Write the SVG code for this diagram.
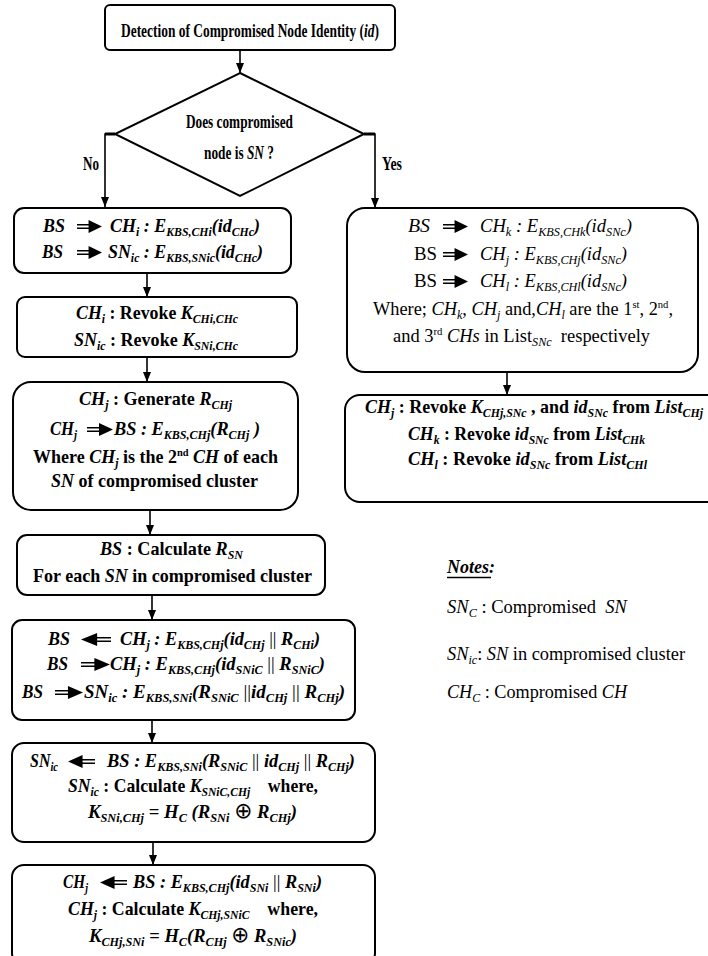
<svg xmlns="http://www.w3.org/2000/svg" xmlns:xlink="http://www.w3.org/1999/xlink" width="708" height="956" viewBox="0 0 708 956">
<style>
text{font-family:"Liberation Serif","Times New Roman",serif;font-size:19px;font-weight:bold;fill:#000;}
.r{font-weight:normal}
.i{font-style:italic}
.u{font-style:normal}
.s{font-size:12.5px;baseline-shift:-4px}
.p{font-size:11px;baseline-shift:7px}
.ox{font-family:"DejaVu Sans",sans-serif;font-weight:normal;font-style:normal;font-size:22px}
.box{fill:#fff;stroke:#000;stroke-width:2}
.con{fill:none;stroke:#000;stroke-width:1.6}
</style>
<defs>
<marker id="ah" viewBox="0 0 10 8" refX="10" refY="4" markerWidth="10" markerHeight="8" orient="auto" markerUnits="userSpaceOnUse"><path d="M0,0 L10,4 L0,8 z" fill="#000"/></marker>
<symbol id="ra" viewBox="0 0 26 14" preserveAspectRatio="none"><path d="M0,5 H14 M0,9 H14" stroke="#000" stroke-width="1.6"/><path d="M12,0 L26,7 L12,14 z" fill="#000"/></symbol>
<symbol id="la" viewBox="0 0 26 14" preserveAspectRatio="none"><path d="M12,5 H26 M12,9 H26" stroke="#000" stroke-width="1.6"/><path d="M14,0 L0,7 L14,14 z" fill="#000"/></symbol>
</defs>

<g id="connectors">
<line class="con" x1="240" y1="50" x2="240" y2="73" marker-end="url(#ah)"/>
<path class="con" d="M115,134 H105 V207" marker-end="url(#ah)"/>
<path d="M105,134 H115" stroke="#000" stroke-width="3"/>
<path class="con" d="M364,134 H375 V208" marker-end="url(#ah)"/>
<path d="M364,134 H375" stroke="#000" stroke-width="3"/>
<line class="con" x1="147" y1="273" x2="147" y2="297" marker-end="url(#ah)"/>
<line class="con" x1="147" y1="357" x2="147" y2="382" marker-end="url(#ah)"/>
<line class="con" x1="150" y1="510" x2="150" y2="535" marker-end="url(#ah)"/>
<line class="con" x1="152" y1="595" x2="152" y2="620" marker-end="url(#ah)"/>
<line class="con" x1="152" y1="720" x2="152" y2="743" marker-end="url(#ah)"/>
<line class="con" x1="153" y1="842" x2="153" y2="865" marker-end="url(#ah)"/>
<line class="con" x1="507" y1="372" x2="507" y2="395" marker-end="url(#ah)"/>
<text x="83" y="170" textLength="16" lengthAdjust="spacingAndGlyphs">No</text>
<text x="382" y="170" textLength="20" lengthAdjust="spacingAndGlyphs">Yes</text>
</g>

<g id="title">
<rect class="box" x="105" y="5" width="290" height="45" rx="5"/>
<text x="121" y="37" textLength="258" lengthAdjust="spacingAndGlyphs">Detection of Compromised Node Identity (<tspan class="i">id</tspan>)</text>
</g>

<g id="decision">
<polygon class="box" points="240,73 364,134 240,196 115,134"/>
<text x="186" y="128" textLength="107" lengthAdjust="spacingAndGlyphs">Does compromised</text>
<text x="204" y="159" textLength="70" lengthAdjust="spacingAndGlyphs">node is <tspan class="i">SN</tspan> ?</text>
</g>

<g id="left1">
<rect class="box" x="14" y="208" width="277" height="65" rx="10"/>
<text class="i" x="43" y="232" textLength="22" lengthAdjust="spacingAndGlyphs">BS</text>
<use href="#ra" xlink:href="#ra" x="77" y="220" width="25" height="13"/>
<text class="i" x="110" y="232" textLength="150" lengthAdjust="spacingAndGlyphs">CH<tspan class="s">i</tspan> : E<tspan class="s">KBS,CHi</tspan>(id<tspan class="s">CHc</tspan>)</text>
<text class="i" x="42" y="258" textLength="21" lengthAdjust="spacingAndGlyphs">BS</text>
<use href="#ra" xlink:href="#ra" x="77" y="246" width="25" height="13"/>
<text class="i" x="108" y="258" textLength="155" lengthAdjust="spacingAndGlyphs">SN<tspan class="s">ic</tspan> : E<tspan class="s">KBS,SNic</tspan>(id<tspan class="s">CHc</tspan>)</text>
</g>

<g id="left2">
<rect class="box" x="17" y="297" width="280" height="60" rx="8"/>
<text x="76" y="319" textLength="162" lengthAdjust="spacingAndGlyphs"><tspan class="i">CH<tspan class="s">i</tspan></tspan> : Revoke <tspan class="i">K<tspan class="s">CHi,CHc</tspan></tspan></text>
<text x="74" y="346" textLength="164" lengthAdjust="spacingAndGlyphs"><tspan class="i">SN<tspan class="s">ic</tspan></tspan> : Revoke <tspan class="i">K<tspan class="s">SNi,CHc</tspan></tspan></text>
</g>

<g id="left3">
<rect class="box" x="13" y="382" width="285" height="128" rx="18"/>
<text x="79" y="405" textLength="153" lengthAdjust="spacingAndGlyphs"><tspan class="i">CH<tspan class="s">j</tspan></tspan> : Generate <tspan class="i">R<tspan class="s">CHj</tspan></tspan></text>
<text class="i" x="50" y="435" textLength="27" lengthAdjust="spacingAndGlyphs">CH<tspan class="s">j</tspan></text>
<use href="#ra" xlink:href="#ra" x="87" y="423" width="26" height="13"/>
<text class="i" x="114" y="435" textLength="146" lengthAdjust="spacingAndGlyphs">BS : E<tspan class="s">KBS,CHj</tspan>(R<tspan class="s">CHj</tspan> )</text>
<text x="33" y="463" textLength="245" lengthAdjust="spacingAndGlyphs">Where <tspan class="i">CH<tspan class="s">j</tspan></tspan> is the 2<tspan class="p">nd</tspan> <tspan class="i">CH</tspan> of each</text>
<text x="51" y="487" textLength="207" lengthAdjust="spacingAndGlyphs"><tspan class="i">SN</tspan> of compromised cluster</text>
</g>

<g id="left4">
<rect class="box" x="17" y="535" width="308" height="60" rx="10"/>
<text x="100" y="555" textLength="143" lengthAdjust="spacingAndGlyphs"><tspan class="i">BS</tspan> : Calculate <tspan class="i">R<tspan class="s">SN</tspan></tspan></text>
<text x="33" y="582" textLength="279" lengthAdjust="spacingAndGlyphs">For each <tspan class="i">SN</tspan> in compromised cluster</text>
</g>

<g id="left5">
<rect class="box" x="12" y="620" width="343" height="100" rx="10"/>
<text class="i" x="48" y="645" textLength="22" lengthAdjust="spacingAndGlyphs">BS</text>
<use href="#la" xlink:href="#la" x="81" y="633" width="30" height="13"/>
<text class="i" x="120" y="645" textLength="200" lengthAdjust="spacingAndGlyphs">CH<tspan class="s">j</tspan> : E<tspan class="s">KBS,CHj</tspan>(id<tspan class="s">CHj</tspan> <tspan class="u r">||</tspan> R<tspan class="s">CHi</tspan>)</text>
<text class="i" x="47" y="670" textLength="21" lengthAdjust="spacingAndGlyphs">BS</text>
<use href="#ra" xlink:href="#ra" x="81" y="658" width="29" height="13"/>
<text class="i" x="110" y="670" textLength="215" lengthAdjust="spacingAndGlyphs">CH<tspan class="s">j</tspan> : E<tspan class="s">KBS,CHj</tspan>(id<tspan class="s">SNiC</tspan> <tspan class="u r">||</tspan> R<tspan class="s">SNiC</tspan>)</text>
<text class="i" x="22" y="698" textLength="21" lengthAdjust="spacingAndGlyphs">BS</text>
<use href="#ra" xlink:href="#ra" x="55" y="686" width="28" height="13"/>
<text class="i" x="84" y="698" textLength="261" lengthAdjust="spacingAndGlyphs">SN<tspan class="s">ic</tspan> : E<tspan class="s">KBS,SNi</tspan>(R<tspan class="s">SNiC</tspan> <tspan class="u r">||</tspan>id<tspan class="s">CHj</tspan> <tspan class="u r">||</tspan> R<tspan class="s">CHj</tspan>)</text>
</g>

<g id="left6">
<rect class="box" x="12" y="743" width="363" height="99" rx="12"/>
<text class="i" x="30" y="767" textLength="28" lengthAdjust="spacingAndGlyphs">SN<tspan class="s">ic</tspan></text>
<use href="#la" xlink:href="#la" x="68" y="755" width="27" height="13"/>
<text class="i" x="107" y="767" textLength="248" lengthAdjust="spacingAndGlyphs">BS : E<tspan class="s">KBS,SNi</tspan>(R<tspan class="s">SNiC</tspan> <tspan class="u r">||</tspan> id<tspan class="s">CHj</tspan> <tspan class="u r">||</tspan> R<tspan class="s">CHj</tspan>)</text>
<text x="68" y="792" textLength="250" lengthAdjust="spacingAndGlyphs"><tspan class="i">SN<tspan class="s">ic</tspan></tspan> : Calculate <tspan class="i">K<tspan class="s">SNiC,CHj</tspan></tspan>&#160;&#160;&#160; where,</text>
<text class="i" x="88" y="818" textLength="209" lengthAdjust="spacingAndGlyphs">K<tspan class="s">SNi,CHj</tspan> <tspan class="u">=</tspan> H<tspan class="s">C</tspan> (R<tspan class="s">SNi</tspan> <tspan class="ox">⊕</tspan> R<tspan class="s">CHj</tspan>)</text>
</g>

<g id="left7">
<rect class="box" x="12" y="865" width="363" height="100" rx="12"/>
<text class="i" x="63" y="888" textLength="25" lengthAdjust="spacingAndGlyphs">CH<tspan class="s">j</tspan></text>
<use href="#la" xlink:href="#la" x="100" y="876" width="27" height="13"/>
<text class="i" x="133" y="888" textLength="189" lengthAdjust="spacingAndGlyphs">BS : E<tspan class="s">KBS,CHj</tspan>(id<tspan class="s">SNi</tspan> <tspan class="u r">||</tspan> R<tspan class="s">SNi</tspan>)</text>
<text x="68" y="915" textLength="250" lengthAdjust="spacingAndGlyphs"><tspan class="i">CH<tspan class="s">j</tspan></tspan> : Calculate <tspan class="i">K<tspan class="s">CHj,SNiC</tspan></tspan>&#160;&#160;&#160; where,</text>
<text class="i" x="89" y="942" textLength="208" lengthAdjust="spacingAndGlyphs">K<tspan class="s">CHj,SNi</tspan> <tspan class="u">=</tspan> H<tspan class="s">C</tspan>(R<tspan class="s">CHj</tspan> <tspan class="ox">⊕</tspan> R<tspan class="s">SNic</tspan>)</text>
</g>

<g id="right1">
<rect class="box" x="347" y="208" width="351" height="164" rx="18"/>
<text class="i r" x="408" y="232" textLength="22" lengthAdjust="spacingAndGlyphs">BS</text>
<use href="#ra" xlink:href="#ra" x="443" y="220" width="25" height="13"/>
<text class="i r" x="480" y="232" textLength="152" lengthAdjust="spacingAndGlyphs">CH<tspan class="s">k</tspan> : E<tspan class="s">KBS,CHk</tspan>(id<tspan class="s">SNc</tspan>)</text>
<text class="r" x="414" y="260" textLength="23" lengthAdjust="spacingAndGlyphs">BS</text>
<use href="#ra" xlink:href="#ra" x="443" y="248" width="25" height="13"/>
<text class="i r" x="480" y="260" textLength="147" lengthAdjust="spacingAndGlyphs">CH<tspan class="s">j</tspan> : E<tspan class="s">KBS,CHj</tspan>(id<tspan class="s">SNc</tspan>)</text>
<text class="r" x="414" y="287" textLength="23" lengthAdjust="spacingAndGlyphs">BS</text>
<use href="#ra" xlink:href="#ra" x="443" y="275" width="25" height="13"/>
<text class="i r" x="480" y="287" textLength="147" lengthAdjust="spacingAndGlyphs">CH<tspan class="s">l</tspan> : E<tspan class="s">KBS,CHl</tspan>(id<tspan class="s">SNc</tspan>)</text>
<text class="r" x="373" y="315" textLength="300" lengthAdjust="spacingAndGlyphs">Where; <tspan class="i">CH<tspan class="s">k</tspan></tspan>, <tspan class="i">CH<tspan class="s">j</tspan></tspan> and,<tspan class="i">CH<tspan class="s">l</tspan></tspan> are the 1<tspan class="p">st</tspan>, 2<tspan class="p">nd</tspan>,</text>
<text class="r" x="393" y="342" textLength="257" lengthAdjust="spacingAndGlyphs">and 3<tspan class="p">rd</tspan> <tspan class="i">CHs</tspan> in List<tspan class="s i">SNc</tspan>&#160;&#160;respectively</text>
</g>

<g id="right2">
<rect class="box" x="345" y="395" width="380" height="107" rx="15"/>
<text x="365" y="413" textLength="338" lengthAdjust="spacingAndGlyphs"><tspan class="i">CH<tspan class="s">j</tspan></tspan> : Revoke <tspan class="i">K<tspan class="s">CHj,SNc</tspan></tspan> , and <tspan class="i">id<tspan class="s">SNc</tspan></tspan> from <tspan class="i">List<tspan class="s">CHj</tspan></tspan></text>
<text x="408" y="440" textLength="237" lengthAdjust="spacingAndGlyphs"><tspan class="i">CH<tspan class="s">k</tspan></tspan> : Revoke <tspan class="i">id<tspan class="s">SNc</tspan></tspan> from <tspan class="i">List<tspan class="s">CHk</tspan></tspan></text>
<text x="408" y="465" textLength="239" lengthAdjust="spacingAndGlyphs"><tspan class="i">CH<tspan class="s">l</tspan></tspan> : Revoke <tspan class="i">id<tspan class="s">SNc</tspan></tspan> from <tspan class="i">List<tspan class="s">CHl</tspan></tspan></text>
</g>

<g id="notes">
<text class="i" x="447" y="573" textLength="48" lengthAdjust="spacingAndGlyphs">Notes:</text>
<line x1="447" y1="577.5" x2="491" y2="577.5" stroke="#000" stroke-width="1.5"/>
<text class="r" x="447" y="613" textLength="180" lengthAdjust="spacingAndGlyphs"><tspan class="i">SN<tspan class="s">C</tspan></tspan> : Compromised&#160; <tspan class="i">SN</tspan></text>
<text class="r" x="447" y="660" textLength="238" lengthAdjust="spacingAndGlyphs"><tspan class="i">SN<tspan class="s">ic</tspan></tspan>: <tspan class="i">SN</tspan> in compromised cluster</text>
<text class="r" x="447" y="698" textLength="180" lengthAdjust="spacingAndGlyphs"><tspan class="i">CH<tspan class="s">C</tspan></tspan> : Compromised <tspan class="i">CH</tspan></text>
</g>
</svg>
